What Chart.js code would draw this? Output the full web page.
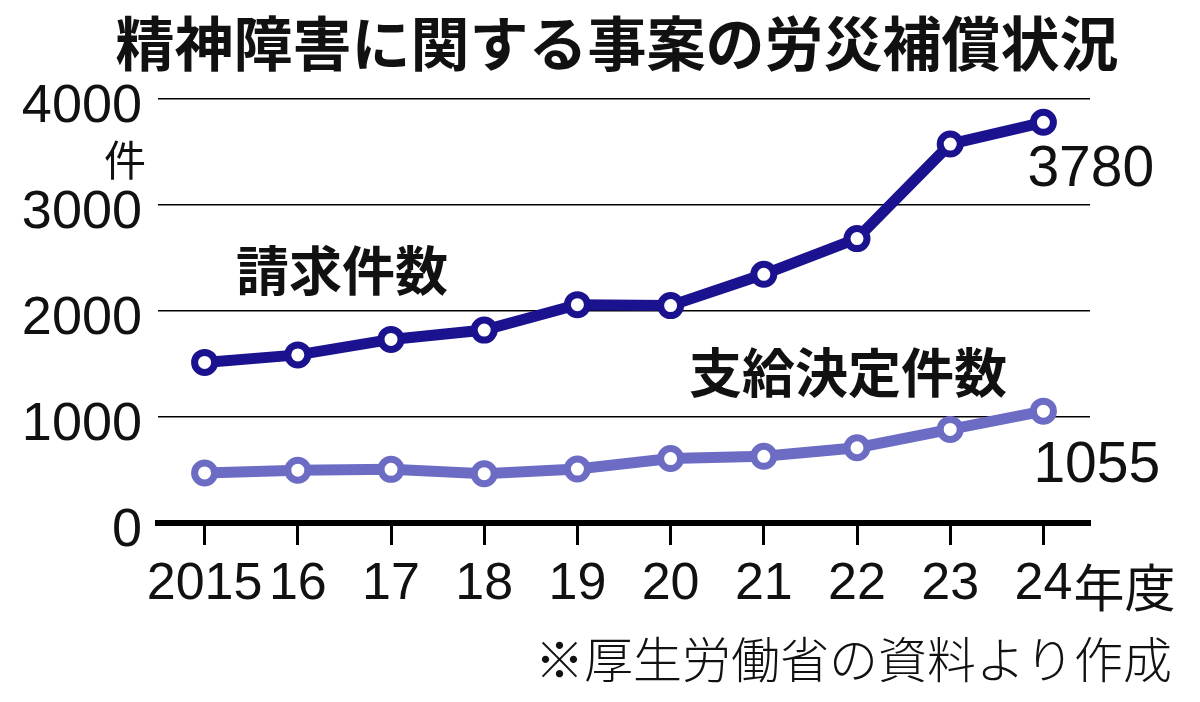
<!DOCTYPE html>
<html>
<head>
<meta charset="utf-8">
<script src="https://cdn.jsdelivr.net/npm/chart.js@4.4.1/dist/chart.umd.min.js"></script>
<style>
  html, body { margin: 0; padding: 0; background: #fff; }
  #wrap { width: 1200px; height: 702px; position: relative; }
</style>
</head>
<body>
<div id="wrap"><canvas id="chart"></canvas></div>
<script>
const years = ["2015", "16", "17", "18", "19", "20", "21", "22", "23", "24"];
const claims = [1515, 1586, 1732, 1820, 2060, 2051, 2346, 2683, 3575, 3780];
const awarded = [472, 498, 506, 465, 509, 608, 629, 710, 883, 1055];
const yTicks = [0, 1000, 2000, 3000, 4000];

const TITLE = "精神障害に関する事案の労災補償状況";
const NUM_FONT = '"Liberation Sans", Arial, sans-serif';
const JP_FONT = '"Noto Sans CJK JP", "Noto Sans", sans-serif';
const dark = "#1b128f";
const light = "#6c6cc4";

// titles, series names, end values, units
const textPlugin = {
    id: "texts",
    afterDraw(chart) {
        const ctx = chart.ctx;
        const x = chart.scales.x;
        const y = chart.scales.y;
        const last = years.length - 1;
        ctx.save();
        ctx.fillStyle = "#111";
        ctx.textBaseline = "middle";

        ctx.textAlign = "center";
        ctx.font = `bold 59px ${JP_FONT}`;
        ctx.fillText(TITLE, 617, 44);

        ctx.textAlign = "left";
        ctx.font = `42px ${JP_FONT}`;
        ctx.fillText("件", 104, 160);

        ctx.font = `bold 53px ${JP_FONT}`;
        ctx.fillText("請求件数", 236, 271);
        ctx.fillText("支給決定件数", 689, 373);

        ctx.font = `57px ${NUM_FONT}`;
        ctx.fillText(String(claims[last]), x.getPixelForValue(last) - 16, y.getPixelForValue(claims[last]) + 48);
        ctx.fillText(String(awarded[last]), x.getPixelForValue(last) - 10, y.getPixelForValue(awarded[last]) + 55);

        ctx.font = `51px ${JP_FONT}`;
        ctx.fillText("年度", x.getPixelForValue(last) + 30, 588);

        ctx.font = `300 49px ${JP_FONT}`;
        ctx.textAlign = "right";
        ctx.fillText("※厚生労働省の資料より作成", 1172, 659);
        ctx.restore();
    }
};

const point = (color) => ({
    borderColor: color,
    backgroundColor: color,
    borderWidth: 11,
    pointRadius: 10,
    pointBorderWidth: 7,
    pointBackgroundColor: "#fff",
    pointBorderColor: color,
    tension: 0
});

new Chart(document.getElementById("chart"), {
    type: "line",
    data: {
        labels: years,
        datasets: [
            Object.assign({ label: "請求件数", data: claims }, point(dark)),
            Object.assign({ label: "支給決定件数", data: awarded }, point(light))
        ]
    },
    options: {
        responsive: true,
        maintainAspectRatio: false,
        animation: false,
        events: [],
        layout: { padding: { top: 99, right: 110, left: 0, bottom: 0 } },
        plugins: { legend: { display: false }, tooltip: { enabled: false } },
        scales: {
            x: {
                offset: true,
                afterFit: (s) => { s.height = 702 - 523; },
                border: { display: true, color: "#000", width: 6 },
                grid: {
                    drawOnChartArea: false,
                    drawTicks: true,
                    tickLength: 22,
                    tickWidth: 3,
                    tickColor: "#000"
                },
                ticks: {
                    color: "#111",
                    font: { family: NUM_FONT, size: 52 },
                    padding: 8,
                    maxRotation: 0,
                    autoSkip: false
                }
            },
            y: {
                min: 0,
                max: 4000,
                afterFit: (s) => { s.width = 158; },
                afterBuildTicks: (s) => { s.ticks = yTicks.map(v => ({ value: v })); },
                border: { display: false },
                grid: {
                    drawTicks: false,
                    color: "#000",
                    lineWidth: 1.5
                },
                ticks: {
                    color: "#111",
                    font: { family: NUM_FONT, size: 54 },
                    padding: 16,
                    labelOffset: 8,
                    callback: (v) => String(v)
                }
            }
        }
    },
    plugins: [textPlugin]
});
</script>
</body>
</html>
